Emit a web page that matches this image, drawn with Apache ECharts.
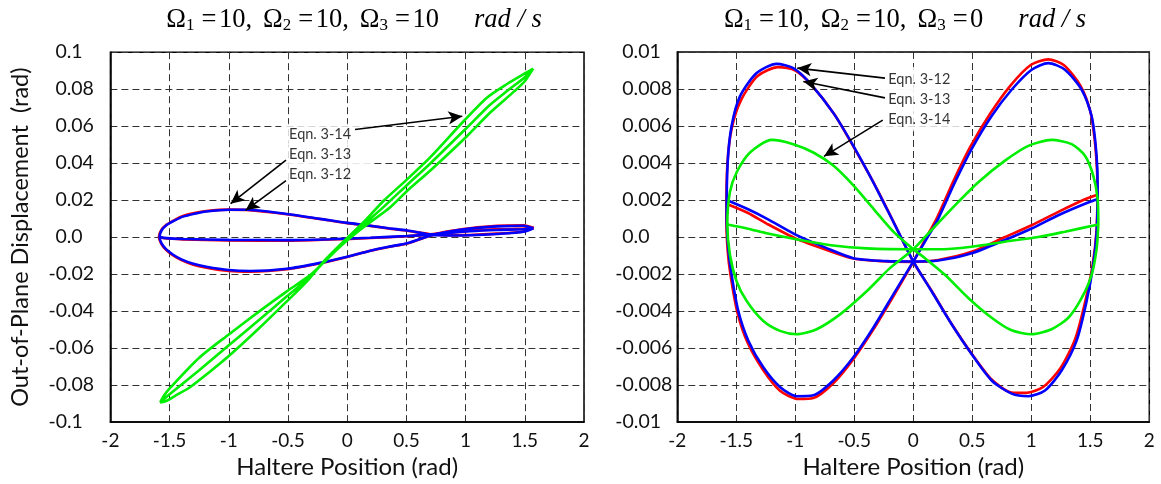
<!DOCTYPE html>
<html>
<head>
<meta charset="utf-8">
<script src="https://cdn.jsdelivr.net/npm/echarts@6/dist/echarts.min.js"></script>
<style>
  html, body { margin: 0; padding: 0; background: #fff; }
  #chart { width: 1161px; height: 484px; }
</style>
</head>
<body>
<div id="chart"></div>
<script>
// ---- Axis ticks ----
const xTicks = [-2, -1.5, -1, -0.5, 0, 0.5, 1, 1.5, 2];
const leftYTicks = ['-0.1', '-0.08', '-0.06', '-0.04', '-0.02', '0.0', '0.02', '0.04', '0.06', '0.08', '0.1'];
const rightYTicks = ['-0.01', '-0.008', '-0.006', '-0.004', '-0.002', '0.0', '0.002', '0.004', '0.006', '0.008', '0.01'];

// ---- Left panel: Ω1 = 10, Ω2 = 10, Ω3 = 10 rad/s  [haltere position (rad), displacement (rad)] ----
// Eqn. 3-12: outer loop (right tip -> lower branch -> left tip -> upper branch -> right tip) and middle strand
const leftEqn12Loop = [
  [1.575, 0.0050], [1.49, 0.0064], [1.263, 0.0061], [1.037, 0.0048], [0.84, 0.0030], [0.70, 0.0008],
  [0.506, -0.0034], [0.35, -0.0053], [0.195, -0.0074], [0.0, -0.0107], [-0.229, -0.0141], [-0.51, -0.0174],
  [-0.82, -0.0187], [-1.0, -0.0183], [-1.19, -0.0165], [-1.30, -0.0149], [-1.40, -0.0124], [-1.47, -0.0099],
  [-1.53, -0.0068], [-1.57, -0.0036], [-1.590, 0.0002], [-1.572, 0.0037], [-1.53, 0.0065], [-1.46, 0.0092],
  [-1.387, 0.0114], [-1.29, 0.0130], [-1.19, 0.0141], [-1.0, 0.0149], [-0.85, 0.0147], [-0.51, 0.0124],
  [-0.229, 0.0098], [0.0, 0.0076], [0.195, 0.0061], [0.35, 0.0047], [0.506, 0.0035], [0.70, 0.0016],
  [0.84, 0.0011], [1.037, 0.0012], [1.263, 0.0019], [1.49, 0.0031], [1.575, 0.0050]
];
const leftEqn12Mid = [
  [1.575, 0.0050], [1.49, 0.0046], [1.263, 0.0042], [1.037, 0.0035], [0.84, 0.0024], [0.70, 0.0015],
  [0.506, 0.0005], [0.195, -0.0005], [-0.144, -0.0013], [-0.51, -0.0019], [-1.0, -0.0018], [-1.387, -0.0012],
  [-1.555, -0.0005], [-1.590, 0.0002]
];
// Eqn. 3-13
const leftEqn13Loop = [
  [1.572, 0.0048], [1.49, 0.0062], [1.263, 0.0058], [1.037, 0.0046], [0.84, 0.0028], [0.70, 0.0008],
  [0.506, -0.0033], [0.35, -0.0052], [0.195, -0.0073], [0.0, -0.0106], [-0.229, -0.0139], [-0.51, -0.0171],
  [-0.82, -0.0183], [-1.0, -0.0178], [-1.19, -0.0160], [-1.30, -0.0144], [-1.40, -0.0120], [-1.47, -0.0095],
  [-1.53, -0.0065], [-1.568, -0.0034], [-1.585, 0.0002], [-1.568, 0.0036], [-1.53, 0.0063], [-1.46, 0.0089],
  [-1.387, 0.0111], [-1.29, 0.0127], [-1.19, 0.0139], [-1.0, 0.0148], [-0.85, 0.0148], [-0.51, 0.0125],
  [-0.229, 0.0099], [0.0, 0.0077], [0.195, 0.0062], [0.35, 0.0048], [0.506, 0.0036], [0.70, 0.0015],
  [0.84, 0.0009], [1.037, 0.0010], [1.263, 0.0017], [1.49, 0.0029], [1.572, 0.0048]
];
const leftEqn13Mid = [
  [1.572, 0.0048], [1.49, 0.0043], [1.263, 0.0039], [1.037, 0.0032], [0.84, 0.0022], [0.70, 0.0014],
  [0.506, 0.0006], [0.195, -0.0003], [-0.144, -0.0011], [-0.51, -0.0016], [-1.0, -0.0015], [-1.387, -0.0010],
  [-1.55, -0.0004], [-1.585, 0.0002]
];
// Eqn. 3-14: three strands between the two tips
const leftEqn14 = [
  [-1.579, -0.0894], [-1.55, -0.0859], [-1.494, -0.0814], [-1.25, -0.0652], [-1.0, -0.0526], [-0.74, -0.040],
  [-0.51, -0.0293], [-0.31, -0.0204], [-0.2, -0.0138], [-0.05, -0.0045], [0.14, 0.0055], [0.364, 0.0162],
  [0.51, 0.0252], [0.70, 0.0359], [1.0, 0.0539], [1.21, 0.0675], [1.41, 0.0788], [1.5, 0.0843], [1.57, 0.0911],
  [1.5, 0.0865], [1.35, 0.079], [1.2, 0.0712], [1.0, 0.0585], [0.70, 0.0397], [0.51, 0.0285], [0.31, 0.0165],
  [0.14, 0.0068], [-0.05, -0.0042], [-0.2, -0.0135], [-0.31, -0.0213], [-0.51, -0.032], [-0.74, -0.0445],
  [-1.0, -0.0585], [-1.25, -0.072], [-1.5, -0.085], [-1.579, -0.0894],
  [-1.52, -0.0883], [-1.437, -0.0852], [-1.325, -0.0810], [-1.17, -0.0733], [-1.0, -0.0643], [-0.74, -0.049],
  [-0.51, -0.0347], [-0.34, -0.0239], [-0.2, -0.0132], [-0.05, -0.0035], [0.14, 0.0082], [0.31, 0.0198],
  [0.51, 0.0315], [0.70, 0.0431], [0.985, 0.0628], [1.18, 0.0754], [1.35, 0.0828], [1.5, 0.0885], [1.57, 0.0911]
];

// ---- Right panel: Ω1 = 10, Ω2 = 10, Ω3 = 0 rad/s ----
// Each equation: shallow inner strand, plus the figure-eight lobes starting and ending at the right edge
const rightEqn12Inner = [
  [-1.585, 0.0018], [-1.40, 0.0013], [-1.243, 0.00073], [-0.989, -0.0001], [-0.734, -0.0007], [-0.508, -0.00116],
  [-0.226, -0.00132], [0, -0.00134], [0.212, -0.00124], [0.494, -0.0008], [0.777, 0.0], [1.003, 0.00064],
  [1.229, 0.00136], [1.455, 0.00204], [1.56, 0.00229]
];
const rightEqn12Lobes = [
  [1.562, 0.00229], [1.557, 0.0036], [1.538, 0.0052], [1.50, 0.0068], [1.415, 0.0082], [1.275, 0.0093], [1.144, 0.0096],
  [0.995, 0.0093], [0.825, 0.0082], [0.655, 0.0067], [0.485, 0.0049], [0.345, 0.0031], [0.205, 0.0011],
  [0.095, -0.0002], [0, -0.00134],
  [-0.169, -0.0032], [-0.339, -0.0050], [-0.508, -0.0066], [-0.678, -0.0079], [-0.847, -0.0087], [-0.975, -0.00875],
  [-1.13, -0.0083], [-1.271, -0.0072], [-1.405, -0.0057], [-1.49, -0.0041], [-1.548, -0.0021], [-1.575, -0.0006],
  [-1.585, 0.0012], [-1.575, 0.0040], [-1.538, 0.0059], [-1.46, 0.0074], [-1.32, 0.0087], [-1.144, 0.00918],
  [-1.0, 0.0090], [-0.86, 0.0082], [-0.665, 0.0066], [-0.5, 0.0048], [-0.333, 0.0029], [-0.166, 0.0008], [0, -0.00134],
  [0.155, -0.0029], [0.325, -0.0047], [0.494, -0.0063], [0.664, -0.0077], [0.833, -0.0084], [0.96, -0.00842],
  [1.10, -0.0081], [1.245, -0.0071], [1.372, -0.0055], [1.46, -0.0034], [1.52, -0.0015], [1.552, 0.0003], [1.562, 0.00229]
];
const rightEqn13Inner = [
  [-1.582, 0.0020], [-1.40, 0.0015], [-1.243, 0.0010], [-0.989, 0.0001], [-0.734, -0.0006], [-0.508, -0.00114],
  [-0.226, -0.0013], [0, -0.00132], [0.212, -0.00127], [0.494, -0.00088], [0.777, -0.00016], [1.003, 0.00046],
  [1.229, 0.00118], [1.455, 0.0018], [1.558, 0.00204]
];
const rightEqn13Lobes = [
  [1.562, 0.00204], [1.560, 0.0036], [1.542, 0.0052], [1.511, 0.00654], [1.427, 0.00796], [1.285, 0.00904], [1.144, 0.0094],
  [1.003, 0.00904], [0.833, 0.00796], [0.664, 0.00654], [0.494, 0.00475], [0.353, 0.00296], [0.212, 0.0010],
  [0.099, -0.00025], [0, -0.00132],
  [-0.169, -0.0031], [-0.339, -0.0049], [-0.508, -0.0065], [-0.678, -0.00775], [-0.847, -0.00855], [-0.989, -0.0086],
  [-1.13, -0.0081], [-1.271, -0.00704], [-1.398, -0.0056], [-1.483, -0.0040], [-1.54, -0.00204], [-1.568, -0.0006],
  [-1.582, 0.0012], [-1.573, 0.00404], [-1.54, 0.0060], [-1.469, 0.0076], [-1.328, 0.00886], [-1.158, 0.00936],
  [-1.017, 0.00913], [-0.876, 0.00832], [-0.678, 0.00671], [-0.508, 0.00493], [-0.339, 0.00296], [-0.169, 0.00082], [0, -0.00132],
  [0.155, -0.00293], [0.325, -0.00471], [0.494, -0.00632], [0.664, -0.00775], [0.833, -0.00846], [0.975, -0.0086],
  [1.116, -0.00829], [1.257, -0.00721], [1.384, -0.0056], [1.469, -0.00346], [1.525, -0.0015], [1.554, 0.00029], [1.562, 0.00204]
];
const rightEqn14Inner = [
  [-1.574, 0.00068], [-1.40, 0.00045], [-1.243, 0.0002], [-0.96, -0.00016], [-0.678, -0.00046], [-0.395, -0.00061],
  [0, -0.00066], [0.212, -0.00066], [0.494, -0.00052], [0.777, -0.00025], [1.059, 0.0], [1.285, 0.00029], [1.568, 0.00068]
];
const rightEqn14Lobes = [
  [1.568, 0.00068], [1.562, 0.00207], [1.525, 0.00332], [1.455, 0.00439], [1.342, 0.00502], [1.172, 0.00525],
  [0.975, 0.00493], [0.777, 0.00413], [0.551, 0.00296], [0.353, 0.00171], [0.155, 0.00038], [0, -0.00066],
  [-0.198, -0.00168], [-0.395, -0.00293], [-0.621, -0.00418], [-0.819, -0.00498], [-0.989, -0.00525], [-1.13, -0.00507],
  [-1.271, -0.00454], [-1.412, -0.00346], [-1.497, -0.0024], [-1.554, -0.00096], [-1.576, 0.00068],
  [-1.554, 0.00243], [-1.497, 0.0035], [-1.384, 0.00457], [-1.2, 0.00525],
  [-1.017, 0.00502], [-0.847, 0.00457], [-0.678, 0.00386], [-0.508, 0.00279], [-0.339, 0.00154], [-0.169, 0.00029], [0, -0.00066],
  [0.099, -0.00114], [0.268, -0.00204], [0.466, -0.00329], [0.664, -0.00436], [0.833, -0.00504], [1.003, -0.00525],
  [1.172, -0.00498], [1.314, -0.00436], [1.427, -0.00329], [1.511, -0.00204], [1.554, -0.00061], [1.568, 0.00068]
];

// ---- Equation labels and their arrows (data coordinates) ----
const leftLabels = [
  { name: 'Eqn. 3-14', at: [-0.491, 0.0556] },
  { name: 'Eqn. 3-13', at: [-0.491, 0.0449] },
  { name: 'Eqn. 3-12', at: [-0.491, 0.0342] }
];
const leftArrows = [
  [[0.066, 0.0582], [0.972, 0.0654]],
  [[-0.517, 0.0417], [-0.985, 0.0181]],
  [[-0.517, 0.0306], [-0.858, 0.0145]]
];
const rightLabels = [
  { name: 'Eqn. 3-12', at: [-0.212, 0.00854] },
  { name: 'Eqn. 3-13', at: [-0.212, 0.00743] },
  { name: 'Eqn. 3-14', at: [-0.212, 0.00636] }
];
const rightArrows = [
  [[-0.240, 0.00859], [-0.983, 0.00913]],
  [[-0.240, 0.00752], [-0.932, 0.00841]],
  [[-0.259, 0.00632], [-0.757, 0.00436]]
];

const RED = '#ff0000', BLUE = '#0000ff', GREEN = '#00ee00';
const SANS = 'Lato, "Open Sans", sans-serif';
const SERIF = '"Liberation Serif", "DejaVu Serif", serif';

function yLabelFormatter(ticks) {
  return function (v) {
    const idx = Math.round((v - ticks.min) / ticks.step);
    const s = ticks.labels[idx];
    if (s === undefined) return '';
    return s.charAt(0) === '-' ? s : '{sp| }' + s;
  };
}

function xAxis(gridIndex) {
  return {
    type: 'value', gridIndex, min: -2, max: 2, interval: 0.5,
    name: 'Haltere Position (rad)', nameLocation: 'middle', nameGap: 31,
    nameTextStyle: { fontFamily: SANS, fontSize: 24, color: '#111' },
    axisLine: { show: true, onZero: false, lineStyle: { color: '#000', width: 1.5 } },
    axisTick: { show: false },
    axisLabel: {
      fontFamily: SANS, fontSize: 19, color: '#111', margin: 9,
      formatter: v => { const t = xTicks.find(x => Math.abs(x - v) < 1e-9); return t === undefined ? '' : String(t); }
    },
    splitLine: { show: true, lineStyle: { color: '#333', width: 1, type: [7, 4] } }
  };
}

function yAxis(gridIndex, min, max, step, labels, name) {
  return {
    type: 'value', gridIndex, min, max, interval: step,
    name: name, nameLocation: 'middle', nameGap: 78, nameRotate: 90,
    nameTextStyle: { fontFamily: SANS, fontSize: 23.5, color: '#111' },
    axisLine: { show: true, onZero: false, lineStyle: { color: '#000', width: 1.5 } },
    axisTick: { show: false },
    axisLabel: {
      fontFamily: SANS, fontSize: 19.5, color: '#111', margin: 62, align: 'left',
      formatter: yLabelFormatter({ min, step, labels }),
      rich: { sp: { width: 7, fontSize: 19.5 } }
    },
    splitLine: { show: true, lineStyle: { color: '#333', width: 1, type: [7, 4] } }
  };
}

function curve(data, color, axisIdx) {
  return {
    type: 'line', data, xAxisIndex: axisIdx, yAxisIndex: axisIdx,
    showSymbol: false, smooth: 0.25, silent: true,
    lineStyle: { color, width: 2.6 }, z: 3
  };
}

// Equation names on a white block that hides the grid behind them
function labelSeries(labels, axisIdx, pad) {
  return {
    type: 'scatter', xAxisIndex: axisIdx, yAxisIndex: axisIdx, symbolSize: 0, silent: true, z: 4,
    data: labels.map(l => ({ name: l.name, value: l.at })),
    label: {
      show: true, position: 'right', distance: 0, offset: [-pad[3], 0], formatter: p => p.name,
      fontFamily: SANS, fontSize: 14.5, color: '#000',
      backgroundColor: '#fff', padding: pad
    }
  };
}

function arrowSeries(arrows, axisIdx) {
  return {
    type: 'scatter', xAxisIndex: axisIdx, yAxisIndex: axisIdx, data: [], silent: true, z: 6,
    markLine: {
      silent: true, animation: false, symbol: ['none', 'arrow'], symbolSize: [10, 14], z: 6,
      lineStyle: { color: '#000', width: 1.6, type: 'solid' },
      label: { show: false },
      data: arrows.map(a => [{ coord: a[0] }, { coord: a[1] }])
    }
  };
}

function titleRich(o3) {
  const grp = k => '{m|Ω}{s|' + k + '}{a| }{m|=}{b| }';
  return grp(1) + '{m|10,}{c| }' + grp(2) + '{m|10,}{c| }' + grp(3) + '{m|' + o3 + '}{g| }{i|rad / s}';
}
const titleRichStyles = {
  m: { fontFamily: SERIF, fontSize: 26.5, fontWeight: 'normal', lineHeight: 30, verticalAlign: 'bottom', color: '#000' },
  s: { fontFamily: SERIF, fontSize: 17, fontWeight: 'normal', lineHeight: 16, verticalAlign: 'bottom', color: '#000' },
  a: { width: 7, fontSize: 26, lineHeight: 30, verticalAlign: 'bottom' },
  b: { width: 2.5, fontSize: 26, lineHeight: 30, verticalAlign: 'bottom' },
  c: { width: 11, fontSize: 26, lineHeight: 30, verticalAlign: 'bottom' },
  g: { width: 35, fontSize: 26, lineHeight: 30, verticalAlign: 'bottom' },
  i: { fontFamily: SERIF, fontSize: 26.5, fontWeight: 'normal', fontStyle: 'italic', lineHeight: 30, verticalAlign: 'bottom', color: '#000' }
};

const chart = echarts.init(document.getElementById('chart'), null, { renderer: 'canvas' });
chart.setOption({
  animation: false,
  backgroundColor: '#fff',
  title: [
    { text: titleRich('10'), left: 349, top: -1, textAlign: 'center', textStyle: { fontWeight: 'normal', rich: titleRichStyles } },
    { text: titleRich('0'), left: 900, top: -1, textAlign: 'center', textStyle: { fontWeight: 'normal', rich: titleRichStyles } }
  ],
  grid: [
    { left: 110.4, top: 52.2, width: 473.6, height: 373, show: true, borderColor: '#000', borderWidth: 1.5 },
    { left: 677.3, top: 52, width: 472, height: 373, show: true, borderColor: '#000', borderWidth: 1.5 }
  ],
  xAxis: [xAxis(0), xAxis(1)],
  yAxis: [
    yAxis(0, -0.1, 0.1, 0.02, leftYTicks, 'Out-of-Plane Displacement  (rad)'),
    yAxis(1, -0.01, 0.01, 0.002, rightYTicks, '')
  ],
  series: [
    curve(leftEqn12Loop, RED, 0),
    curve(leftEqn12Mid, RED, 0),
    curve(leftEqn13Loop, BLUE, 0),
    curve(leftEqn13Mid, BLUE, 0),
    curve(leftEqn14, GREEN, 0),
    labelSeries(leftLabels, 0, [3, 22, 3, 8]),
    arrowSeries(leftArrows, 0),
    curve(rightEqn12Inner, RED, 1),
    curve(rightEqn12Lobes, RED, 1),
    curve(rightEqn13Inner, BLUE, 1),
    curve(rightEqn13Lobes, BLUE, 1),
    curve(rightEqn14Inner, GREEN, 1),
    curve(rightEqn14Lobes, GREEN, 1),
    labelSeries(rightLabels, 1, [4, 14, 5, 10]),
    arrowSeries(rightArrows, 1)
  ]
});
</script>
</body>
</html>
